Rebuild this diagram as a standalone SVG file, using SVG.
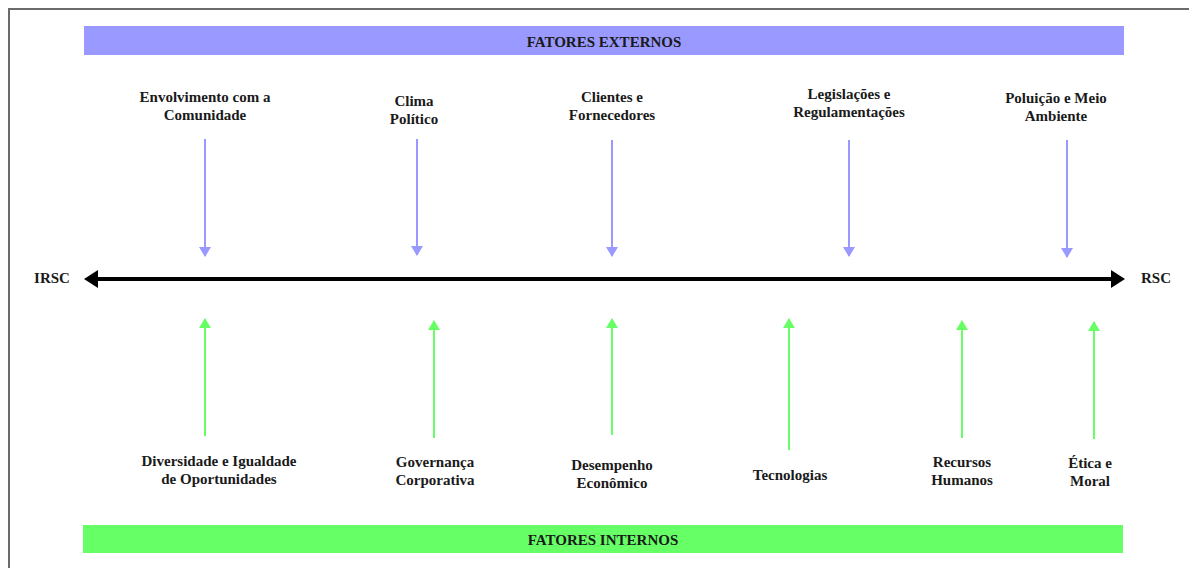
<svg xmlns="http://www.w3.org/2000/svg" width="1189" height="568" viewBox="0 0 1189 568">
<defs>
<style>
text{font-family:"Liberation Serif","Times New Roman",serif;font-weight:bold;font-size:15px;fill:#1a1a1a;text-anchor:middle}
.ext{stroke:#9999ff;stroke-width:2;fill:none}
.int{stroke:#66ff66;stroke-width:2;fill:none}
</style>
<marker id="hd" viewBox="0 0 12 10" refX="6" refY="9" markerWidth="12" markerHeight="10" markerUnits="userSpaceOnUse" orient="0">
<path d="M0,0 L12,0 L6,10 Z" fill="#9999ff"/>
</marker>
<marker id="hu" viewBox="0 0 12 10" refX="6" refY="1" markerWidth="12" markerHeight="10" markerUnits="userSpaceOnUse" orient="0">
<path d="M0,10 L12,10 L6,0 Z" fill="#66ff66"/>
</marker>
</defs>
<rect width="1189" height="568" fill="#ffffff"/>
<path d="M9,568 V9 H1189" fill="none" stroke="#6b6b6b" stroke-width="2"/>
<g id="externos">
<rect x="84" y="26" width="1040" height="29" fill="#9999ff"/>
<text x="604" y="47">FATORES EXTERNOS</text>
</g>
<g id="internos">
<rect x="83" y="525" width="1040" height="28" fill="#66ff66"/>
<text x="603" y="545">FATORES INTERNOS</text>
</g>
<g id="irsc"><text x="52" y="283">IRSC</text></g>
<g id="rsc"><text x="1156" y="283">RSC</text></g>
<g id="e1"><text x="205" y="102">Envolvimento com a</text><text x="205" y="120">Comunidade</text></g>
<g id="e2"><text x="414" y="106">Clima</text><text x="414" y="124">Político</text></g>
<g id="e3"><text x="612" y="102">Clientes e</text><text x="612" y="120">Fornecedores</text></g>
<g id="e4"><text x="849" y="99">Legislações e</text><text x="849" y="117">Regulamentações</text></g>
<g id="e5"><text x="1056" y="103">Poluição e Meio</text><text x="1056" y="121">Ambiente</text></g>
<g id="i1"><text x="219" y="466">Diversidade e Igualdade</text><text x="219" y="484">de Oportunidades</text></g>
<g id="i2"><text x="435" y="467">Governança</text><text x="435" y="485">Corporativa</text></g>
<g id="i3"><text x="612" y="470">Desempenho</text><text x="612" y="488">Econômico</text></g>
<g id="i4"><text x="790" y="480">Tecnologias</text></g>
<g id="i5"><text x="962" y="467">Recursos</text><text x="962" y="485">Humanos</text></g>
<g id="i6"><text x="1090" y="468">Ética e</text><text x="1090" y="486">Moral</text></g>
<g id="connectors">
<path d="M97,279 H1112" stroke="#000" stroke-width="4"/>
<path d="M84,279 L98,270 L98,288 Z" fill="#000"/>
<path d="M1125,279 L1111,270 L1111,288 Z" fill="#000"/>
<path class="ext" d="M205,139 V256" marker-end="url(#hd)"/>
<path class="ext" d="M417,139 V255" marker-end="url(#hd)"/>
<path class="ext" d="M612,140 V256" marker-end="url(#hd)"/>
<path class="ext" d="M849,140 V256" marker-end="url(#hd)"/>
<path class="ext" d="M1067,140 V257" marker-end="url(#hd)"/>
<path class="int" d="M205,436 V319" marker-end="url(#hu)"/>
<path class="int" d="M434,438 V321" marker-end="url(#hu)"/>
<path class="int" d="M612,435 V319" marker-end="url(#hu)"/>
<path class="int" d="M789,450 V319" marker-end="url(#hu)"/>
<path class="int" d="M962,438 V321" marker-end="url(#hu)"/>
<path class="int" d="M1094,439 V322" marker-end="url(#hu)"/>
</g>
</svg>
